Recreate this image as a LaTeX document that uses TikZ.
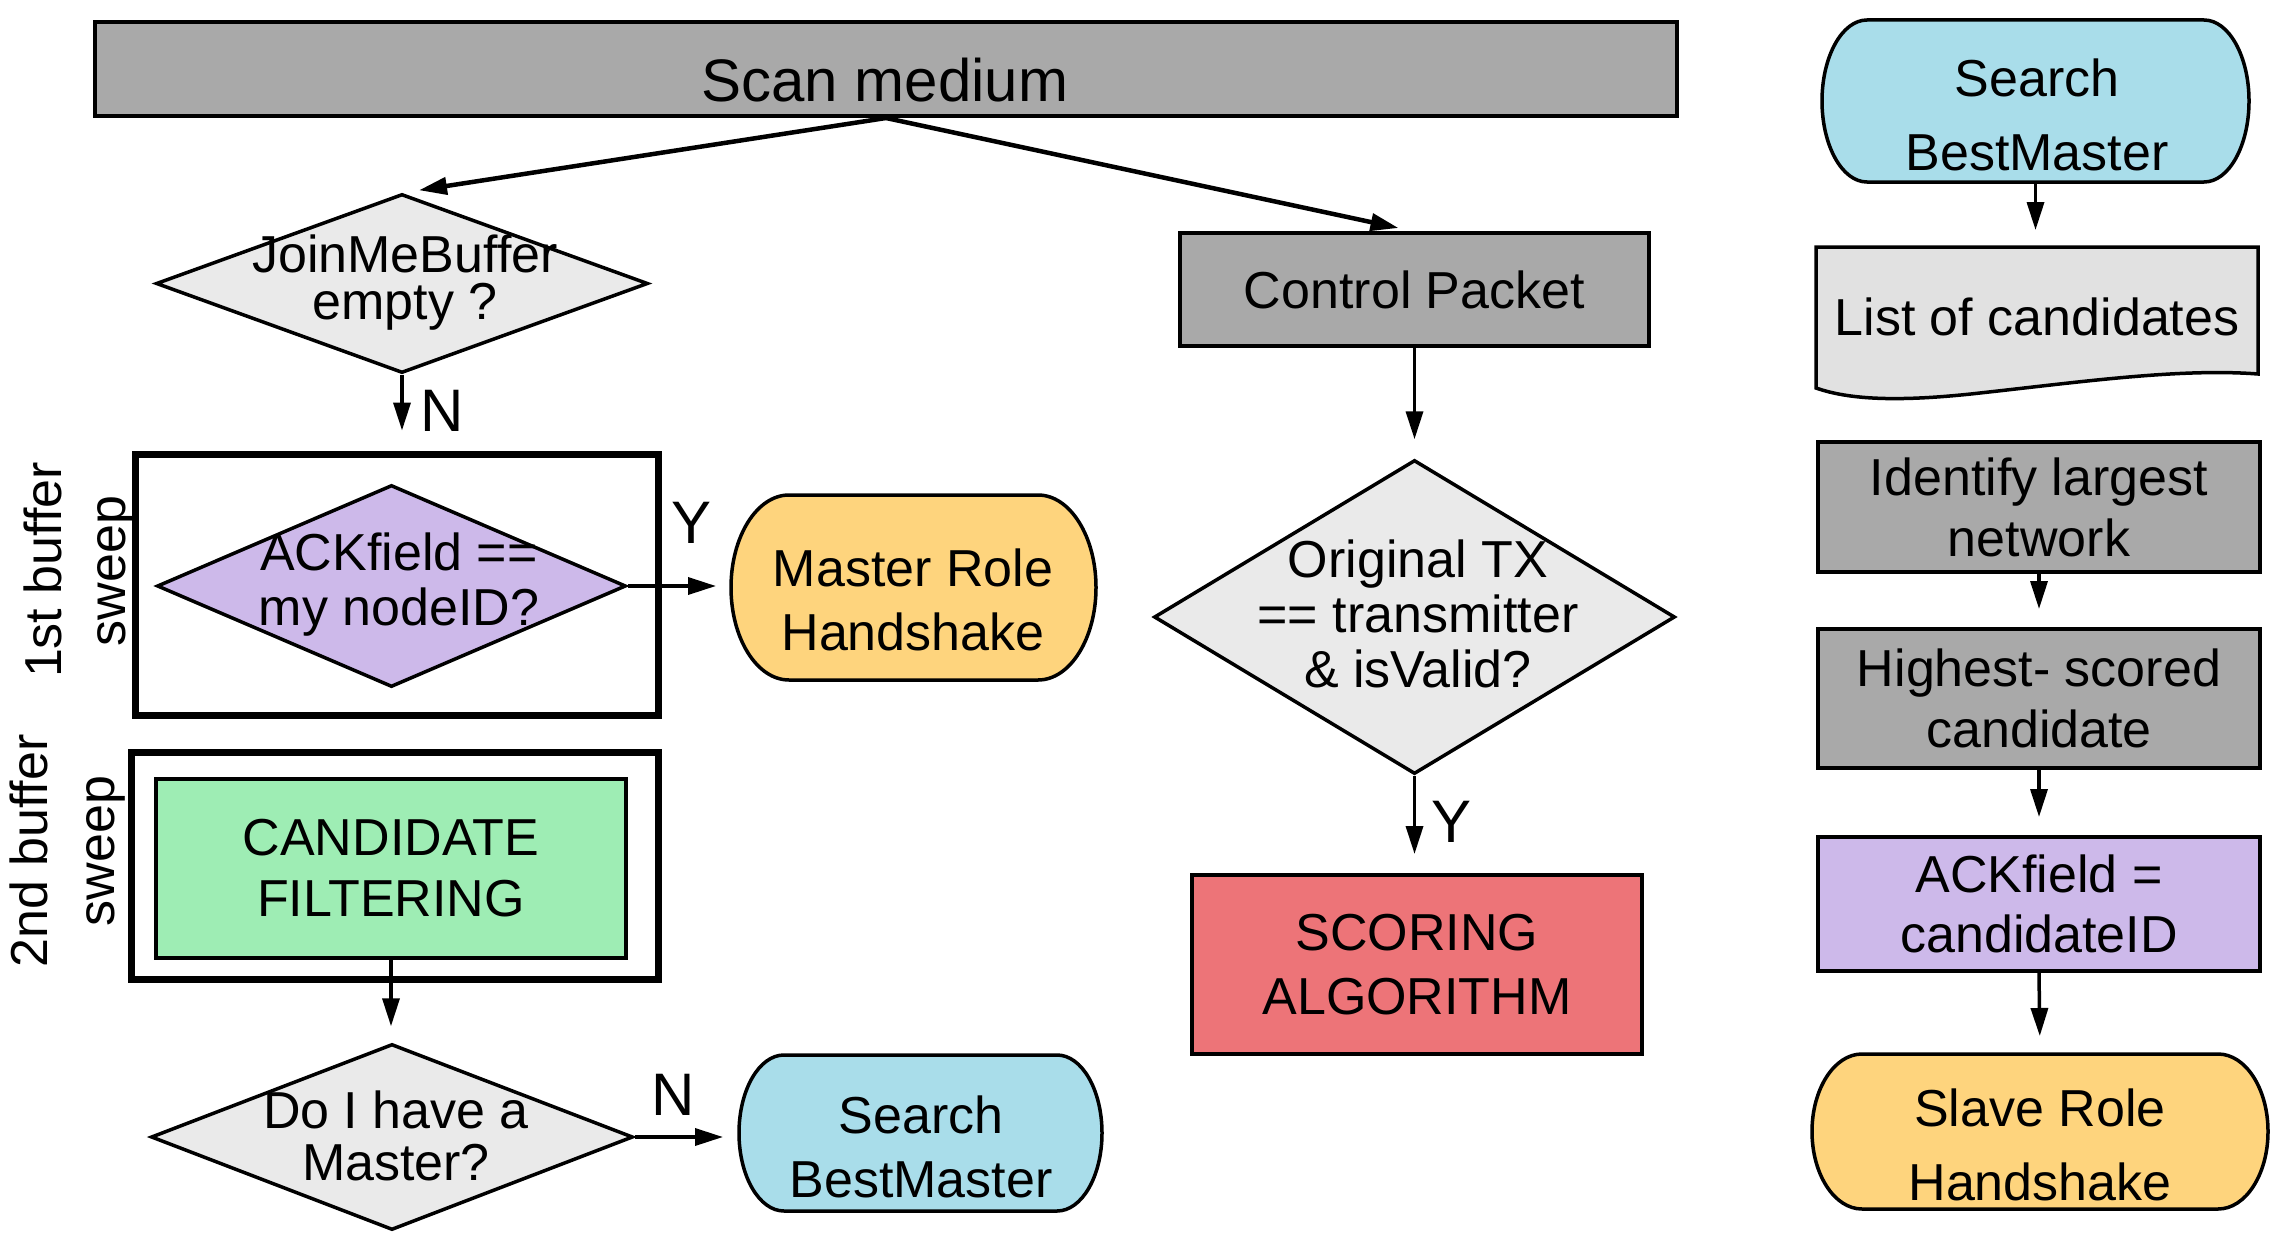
\documentclass[tikz,border=0pt]{standalone}
\usepackage{fontspec}
\setmainfont{Liberation Sans}
\usetikzlibrary{arrows.meta,shapes.geometric}
\definecolor{boxgray}{HTML}{A9A9A9}
\definecolor{diagray}{HTML}{EAEAEA}
\definecolor{docgray}{HTML}{E1E1E1}
\definecolor{lav}{HTML}{CDB9EA}
\definecolor{yel}{HTML}{FED47D}
\definecolor{blu}{HTML}{A9DDEA}
\definecolor{grn}{HTML}{9EEDB4}
\definecolor{redbox}{HTML}{ED7478}
\newcommand\fs[1]{\fontsize{52}{#1}\selectfont}
% terminator outline: cx cy w h rx fill
\newcommand\termpath[6]{%
  \filldraw[line width=3.5pt, fill=#6]
   ({#1-#3/2+#5},{#2-#4/2}) -- ({#1+#3/2-#5},{#2-#4/2})
   .. controls ({#1+#3/2-0.448*#5},{#2-#4/2}) and ({#1+#3/2},{#2-0.276*#4}) .. ({#1+#3/2},{#2})
   .. controls ({#1+#3/2},{#2+0.276*#4}) and ({#1+#3/2-0.448*#5},{#2+#4/2}) .. ({#1+#3/2-#5},{#2+#4/2})
   -- ({#1-#3/2+#5},{#2+#4/2})
   .. controls ({#1-#3/2+0.448*#5},{#2+#4/2}) and ({#1-#3/2},{#2+0.276*#4}) .. ({#1-#3/2},{#2})
   .. controls ({#1-#3/2},{#2-0.276*#4}) and ({#1-#3/2+0.448*#5},{#2-#4/2}) .. cycle;}
\tikzset{
  txt/.style={inner sep=0pt, align=center, font=\fs{62}},
  rbox/.style={draw, line width=4pt, inner sep=0pt, align=center, font=\fs{62}},
  dia/.style={diamond, draw, line width=3.5pt, fill=diagray, inner sep=0pt},
  ghost/.style={inner sep=0pt, outer sep=0pt},
  conn/.style={line width=3.5pt, -{Triangle[length=28pt,width=17pt]}},
  lab/.style={inner sep=0pt, font=\fontsize{60}{70}\selectfont},
  sweepbox/.style={draw, line width=7pt, inner sep=0pt},
}
\begin{document}
\begin{tikzpicture}[x=1pt,y=-1pt]
\useasboundingbox (0,0) rectangle (2282,1244);

% top bar
\node[rbox, fill=boxgray, minimum width=1582pt, minimum height=94pt] (scan) at (886,69) {};
\node[lab] (scantxt) at (885,80) {Scan medium};

% left column
\node[dia, minimum width=492pt, minimum height=179pt] (jm) at (402,283.5) {};
\node[txt, font=\fs{47}] (jmtxt) at (405,283) {JoinMeBuffer\\empty ?};

\node[sweepbox, minimum width=523pt, minimum height=261pt] (sw1) at (396.5,584.5) {};
\node[dia, fill=lav, minimum width=469pt, minimum height=202pt] (ack) at (391.5,586) {};
\node[txt, font=\fs{55}] (acktxt) at (399,585) {ACKfield ==\\my nodeID?};
\node[txt, rotate=90] (sw1a) at (43,570) {1st buffer};
\node[txt, rotate=90] (sw1b) at (117,571) {sweep};

\node[sweepbox, minimum width=527pt, minimum height=227pt] (sw2) at (394.5,865.5) {};
\node[rbox, fill=grn, minimum width=470pt, minimum height=179pt, font=\fs{61}] (cand) at (391,868.5) {CANDIDATE\\FILTERING};
\node[txt, rotate=90] (sw2a) at (29,851) {2nd buffer};
\node[txt, rotate=90] (sw2b) at (106,851) {sweep};

\node[dia, minimum width=482pt, minimum height=186pt] (dm) at (392,1137) {};
\node[txt, font=\fs{52}] (dmtxt) at (396,1136) {Do I have a\\Master?};

\termpath{913.5}{587.5}{365}{185}{58}{yel}
\node[ghost, minimum width=365pt, minimum height=185pt] (master) at (913.5,587.5) {};
\node[txt, font=\fs{64}] (mastertxt) at (913,600) {Master Role\\Handshake};

\termpath{920.5}{1133}{363}{156}{45}{blu}
\node[ghost, minimum width=363pt, minimum height=156pt] (sb) at (920.5,1133) {};
\node[txt, font=\fs{64}] (sbtxt) at (921,1147) {Search\\BestMaster};

% middle column
\node[rbox, fill=boxgray, minimum width=469pt, minimum height=113pt] (cp) at (1414.5,289.5) {Control Packet};
\node[dia, minimum width=521pt, minimum height=314pt] (otx) at (1414.5,617) {};
\node[txt, font=\fs{55}] (otxtxt) at (1418,614) {Original TX\\== transmitter\\\& isValid?};
\node[rbox, fill=redbox, minimum width=450pt, minimum height=179pt, font=\fs{64}] (score) at (1417,964.5) {SCORING\\ALGORITHM};

% right column
\termpath{2035.5}{101}{427}{162}{45}{blu}
\node[ghost, minimum width=427pt, minimum height=162pt] (stop) at (2035.5,101) {};
\node[txt, font=\fs{74}] (stoptxt) at (2037,115) {Search\\BestMaster};

\filldraw[line width=3.5pt, fill=docgray] (1816,247) -- (2258,247) -- (2258,374)
  .. controls (2180,368) and (2080,382) .. (1980,393)
  .. controls (1900,402) and (1850,400) .. (1816,388) -- cycle;
\node[ghost, txt, minimum width=442pt, minimum height=139pt] (list) at (2037,316.5) {List of candidates};

\node[rbox, fill=boxgray, minimum width=442pt, minimum height=130pt, font=\fs{61}] (ident) at (2039,507) {Identify largest\\network};
\node[rbox, fill=boxgray, minimum width=442pt, minimum height=139pt, font=\fs{61}] (high) at (2039,698.5) {Highest- scored\\candidate};
\node[rbox, fill=lav, minimum width=442pt, minimum height=134pt, font=\fs{60}] (ackc) at (2039,904) {ACKfield =\\candidateID};

\termpath{2040}{1131.5}{456}{155}{50}{yel}
\node[ghost, minimum width=456pt, minimum height=155pt] (slave) at (2040,1131.5) {};
\node[txt, font=\fs{74}] (slavetxt) at (2040,1145) {Slave Role\\Handshake};

% connectors
\draw[conn, line width=4.5pt] (scan.south) -- ([xshift=17pt,yshift=2pt]jm.north);
\draw[conn, line width=4.5pt] (scan.south) -- ([xshift=-16pt,yshift=3pt]cp.north);
\draw[conn, shorten >=20pt] (jm.south) -- (jm.south |- sw1.north);
\draw[conn, shorten >=15pt] (ack.east) -- (ack.east -| master.west);
\draw[conn, shorten >=16pt] (cand.south) -- (cand.south |- dm.north);
\draw[conn, shorten >=16pt] (dm.east) -- (dm.east -| sb.west);
\draw[conn, shorten >=19pt] (cp.south) -- (otx.north);
\draw[conn, shorten >=19pt] (otx.south) -- (otx.south |- score.north);
\draw[conn, shorten >=17pt] (stop.south) -- (stop.south |- list.north);
\draw[conn, shorten >=18pt] (ident.south) -- (high.north);
\draw[conn, shorten >=18pt] (high.south) -- (ackc.north);
\draw[conn, shorten >=18pt] (ackc.south) -- (slave.north);

% labels
\node[lab] (n1) at (442,411) {N};
\node[lab] (y1) at (691,523) {Y};
\node[lab] (y2) at (1451,822) {Y};
\node[lab] (n2) at (673,1095) {N};
\end{tikzpicture}
\end{document}
